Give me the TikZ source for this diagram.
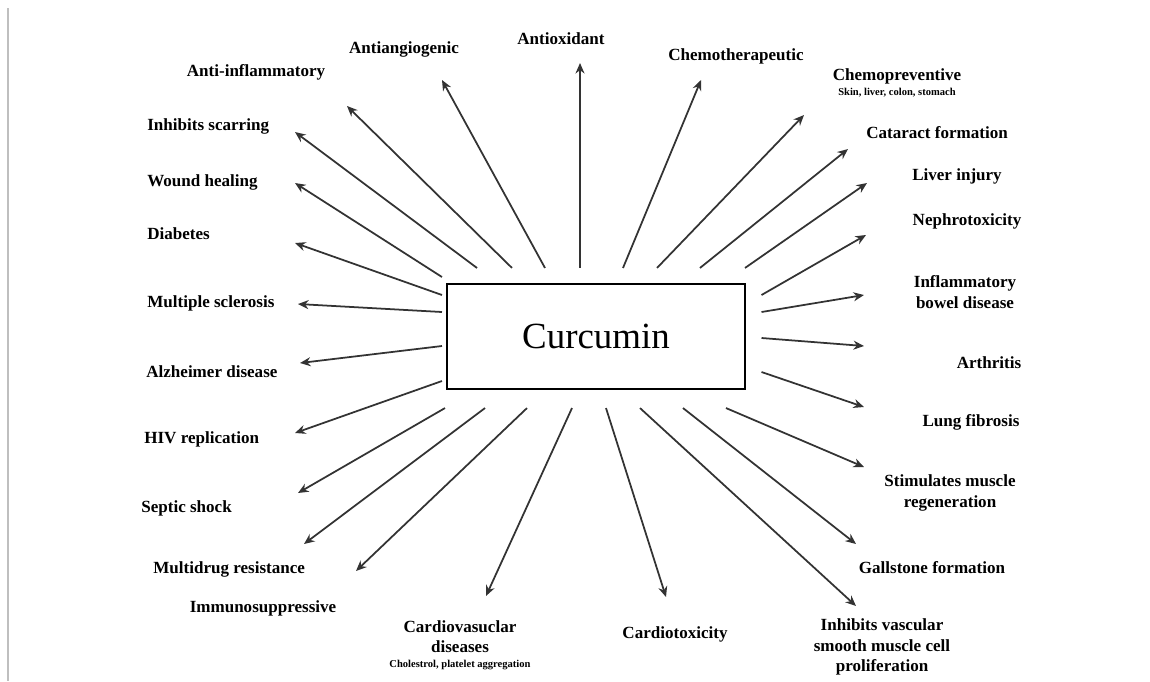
\documentclass[tikz,border=0pt]{standalone}
\usepackage{fontspec}
\setmainfont{Liberation Serif}
\usetikzlibrary{arrows.meta, calc}

\begin{document}
\begin{tikzpicture}[
  x=0.02cm, y=-0.02cm,
  lbl/.style={font=\fontsize{9.7}{11.5}\selectfont\bfseries, inner sep=0pt, align=center},
  arr/.style={-{Stealth[length=2.1mm, width=1.8mm]}, line width=1pt, black!80},
  core/.style={rectangle, draw, line width=1.2pt, minimum width=5.96cm,
    minimum height=2.1cm, inner sep=0pt, font=\fontsize{21}{24}\selectfont}
]
\useasboundingbox (0,0) rectangle (1150,681);
\draw[black!25, line width=0.6pt] (8,8) -- (8,681);

\node[core] (cur) at (596,336.5) {Curcumin};

% labels
\node[lbl] (antiox) at (561,39) {Antioxidant};
\node[lbl] (antiang) at (404,49) {Antiangiogenic};
\node[lbl] (antiinf) at (256,72) {Anti-inflammatory};
\node[lbl, anchor=west] (scar) at (147,126) {Inhibits scarring};
\node[lbl, anchor=west] (wound) at (147,182) {Wound healing};
\node[lbl, anchor=west] (diab) at (147,234) {Diabetes};
\node[lbl, anchor=west] (ms) at (147,303) {Multiple sclerosis};
\node[lbl, anchor=west] (alz) at (146,372) {Alzheimer disease};
\node[lbl, anchor=west] (hiv) at (144,439) {HIV replication};
\node[lbl, anchor=west] (septic) at (141,508) {Septic shock};
\node[lbl, anchor=west] (mdr) at (153,569) {Multidrug resistance};
\node[lbl] (immuno) at (263,608) {Immunosuppressive};
\node[lbl] (cardvas) at (460,645) {Cardiovasuclar\\ diseases\\[-3pt]
  {\fontsize{6}{7}\selectfont Cholestrol, platelet aggregation}};
\node[lbl] (cardtox) at (675,634) {Cardiotoxicity};
\node[lbl] (vsmc) at (882,647) {Inhibits vascular\\ smooth muscle cell\\ proliferation};
\node[lbl] (gall) at (932,568) {Gallstone formation};
\node[lbl] (muscle) at (950,493) {Stimulates muscle\\ regeneration};
\node[lbl] (lung) at (971,422) {Lung fibrosis};
\node[lbl] (arth) at (989,363) {Arthritis};
\node[lbl] (ibd) at (965,292) {Inflammatory\\ bowel disease};
\node[lbl] (nephro) at (967,221) {Nephrotoxicity};
\node[lbl] (liver) at (957,176) {Liver injury};
\node[lbl] (catar) at (937,133) {Cataract formation};
\node[lbl] (chemop) at (897,83) {Chemopreventive\\[-3pt]
  {\fontsize{6}{7}\selectfont Skin, liver, colon, stomach}};
\node[lbl] (chemot) at (736,56) {Chemotherapeutic};

% arrow tips
\coordinate (antiox-t) at (580,63);
\coordinate (antiang-t) at (442,80);
\coordinate (antiinf-t) at (347,106);
\coordinate (scar-t) at (295,132);
\coordinate (wound-t) at (295,183);
\coordinate (diab-t) at (295,243);
\coordinate (ms-t) at (298,304);
\coordinate (alz-t) at (300,363);
\coordinate (hiv-t) at (295,433);
\coordinate (septic-t) at (298,493);
\coordinate (mdr-t) at (304,544);
\coordinate (immuno-t) at (356,571);
\coordinate (cardvas-t) at (486,596);
\coordinate (cardtox-t) at (666,597);
\coordinate (vsmc-t) at (856,606);
\coordinate (gall-t) at (856,544);
\coordinate (muscle-t) at (864,467);
\coordinate (lung-t) at (864,407);
\coordinate (arth-t) at (864,346);
\coordinate (ibd-t) at (864,295);
\coordinate (nephro-t) at (866,235);
\coordinate (liver-t) at (867,183);
\coordinate (catar-t) at (848,149);
\coordinate (chemop-t) at (804,115);
\coordinate (chemot-t) at (701,80);

% top
\draw[arr] ($(cur.north)+(-16,-15)$) -- (antiox-t);
\draw[arr] ($(cur.north)+(-51,-15)$) -- (antiang-t);
\draw[arr] ($(cur.north)+(-84,-15)$) -- (antiinf-t);
\draw[arr] ($(cur.north)+(-119,-15)$) -- (scar-t);
\draw[arr] ($(cur.north)+(27,-15)$) -- (chemot-t);
\draw[arr] ($(cur.north)+(61,-15)$) -- (chemop-t);
\draw[arr] ($(cur.north)+(104,-15)$) -- (catar-t);
\draw[arr] ($(cur.north)+(149,-15)$) -- (liver-t);
% left
\draw[arr] ($(cur.west)+(-4,-59.5)$) -- (wound-t);
\draw[arr] ($(cur.west)+(-4,-41.5)$) -- (diab-t);
\draw[arr] ($(cur.west)+(-4,-24.5)$) -- (ms-t);
\draw[arr] ($(cur.west)+(-4,9.5)$) -- (alz-t);
\draw[arr] ($(cur.west)+(-4,44.5)$) -- (hiv-t);
% right
\draw[arr] ($(cur.east)+(15.5,-41.5)$) -- (nephro-t);
\draw[arr] ($(cur.east)+(15.5,-24.5)$) -- (ibd-t);
\draw[arr] ($(cur.east)+(15.5,1.5)$) -- (arth-t);
\draw[arr] ($(cur.east)+(15.5,35.5)$) -- (lung-t);
% bottom
\draw[arr] ($(cur.south)+(-151,18)$) -- (septic-t);
\draw[arr] ($(cur.south)+(-111,18)$) -- (mdr-t);
\draw[arr] ($(cur.south)+(-69,18)$) -- (immuno-t);
\draw[arr] ($(cur.south)+(-24,18)$) -- (cardvas-t);
\draw[arr] ($(cur.south)+(10,18)$) -- (cardtox-t);
\draw[arr] ($(cur.south)+(44,18)$) -- (vsmc-t);
\draw[arr] ($(cur.south)+(87,18)$) -- (gall-t);
\draw[arr] ($(cur.south)+(130,18)$) -- (muscle-t);
\end{tikzpicture}
\end{document}
